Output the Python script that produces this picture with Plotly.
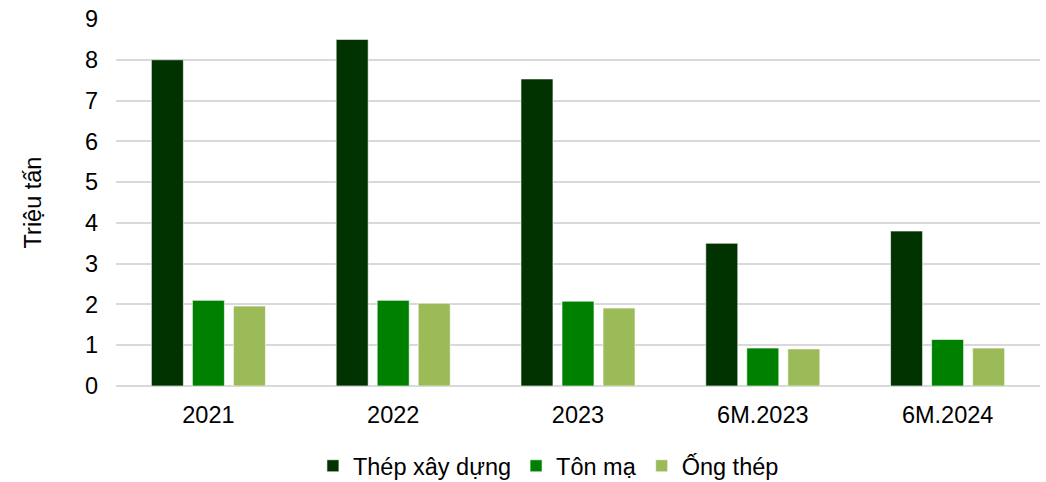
import plotly.graph_objects as go

categories = ["2021", "2022", "2023", "6M.2023", "6M.2024"]
thep_xay_dung = [8.0, 8.5, 7.53, 3.5, 3.8]
ton_ma = [2.1, 2.1, 2.08, 0.93, 1.14]
ong_thep = [1.96, 2.03, 1.91, 0.91, 0.93]

series = [
    ("Thép xây dựng", thep_xay_dung, "#003300"),
    ("Tôn mạ", ton_ma, "#008000"),
    ("Ống thép", ong_thep, "#9BBB59"),
]

fig = go.Figure()
for name, vals, color in series:
    fig.add_trace(go.Bar(
        x=categories, y=vals, name=name,
        marker=dict(color=color, line=dict(color="rgba(255,255,255,0.6)", width=1)),
    ))

font = "Liberation Sans, Arial, sans-serif"
fs = 23.5
fig.update_layout(
    width=1046, height=482,
    barmode="group", bargap=0.334, bargroupgap=0.22,
    plot_bgcolor="white", paper_bgcolor="white",
    margin=dict(l=116, r=6, t=19, b=96, autoexpand=False),
    font=dict(family=font, size=fs, color="#000000"),
    yaxis=dict(
        range=[0, 9], dtick=1, showgrid=True, gridcolor="#d9d9d9", gridwidth=1.5,
        zeroline=True, zerolinecolor="#d9d9d9", zerolinewidth=1.5,
        title=dict(text="Triệu tấn", font=dict(size=fs), standoff=36),
        tickfont=dict(size=fs), ticks="", showline=False,
        automargin=False, ticklabelstandoff=17,
    ),
    xaxis=dict(showgrid=False, tickfont=dict(size=fs), ticks="", showline=False,
               automargin=False, ticklabelstandoff=12),
    legend=dict(orientation="h", x=0.468, xanchor="center", y=-0.218, yanchor="middle",
                font=dict(size=fs), traceorder="normal", itemwidth=30),
    showlegend=True,
)

fig.write_html("out.html", config={"displayModeBar": False},
               post_script="document.body.style.margin='0';document.body.style.overflow='hidden';")
